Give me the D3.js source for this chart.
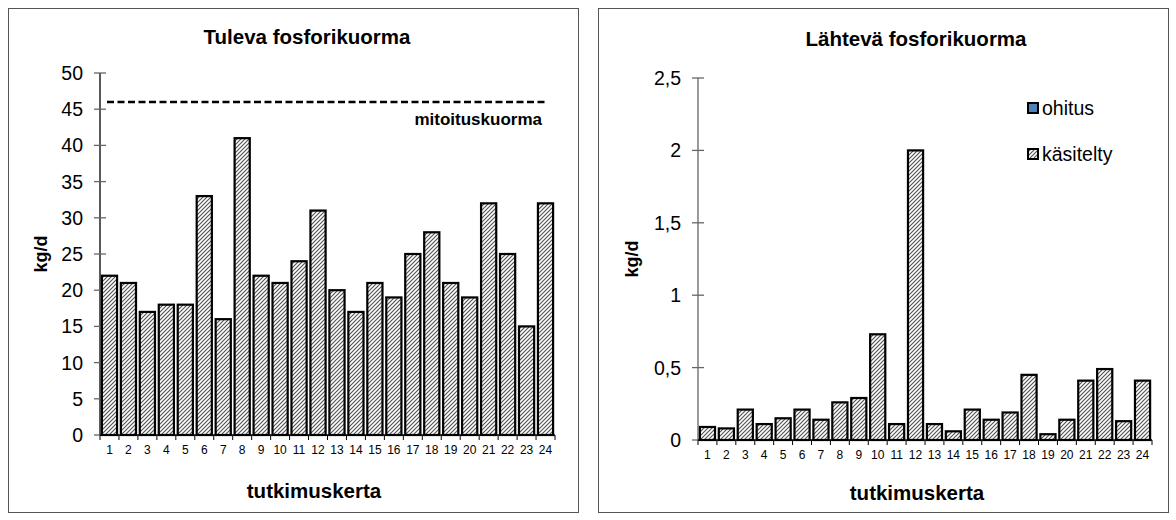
<!DOCTYPE html>
<html><head><meta charset="utf-8">
<script src="https://cdn.jsdelivr.net/npm/d3@7"></script>
<style>body{margin:0;background:#fff}svg{display:block;font-family:"Liberation Sans",Arial,sans-serif}</style>
</head><body>
<svg id="c" width="1176" height="520"></svg>
<script>
const categories = d3.range(1,25).map(String);
const tulevaValues = [22,21,17,18,18,33,16,41,22,21,24,31,20,17,21,19,25,28,21,19,32,25,15,32];
const lahtevaKasitelty = [0.09,0.08,0.21,0.11,0.15,0.21,0.14,0.26,0.29,0.73,0.11,2.0,0.11,0.06,0.21,0.14,0.19,0.45,0.04,0.14,0.41,0.49,0.13,0.41];
const lahtevaOhitus = [0,0,0,0,0,0,0,0,0,0,0,0,0,0,0,0,0,0,0,0,0,0,0,0];
const mitoitus = 46;
const leftTicks = [0,5,10,15,20,25,30,35,40,45,50];
const rightTicks = [0,0.5,1,1.5,2,2.5];
const legendLabels = ["ohitus","käsitelty"];

const svg = d3.select("#c");
const defs = svg.append("defs");
const pat = defs.append("pattern").attr("id","hatch").attr("patternUnits","userSpaceOnUse")
  .attr("width",4).attr("height",4);
pat.append("rect").attr("width",4).attr("height",4).attr("fill","#fff");
pat.append("path").attr("d","M-1,1 l2,-2 M0,4 l4,-4 M3,5 l2,-2").attr("stroke","#555").attr("stroke-width",1.2);

function panel(o){
  const g = svg.append("g");
  g.append("rect").attr("x",o.bx+0.5).attr("y",8.5).attr("width",570).attr("height",504)
    .attr("fill","#fff").attr("stroke","#555").attr("stroke-width",1);
  const x = d3.scaleBand().domain(categories).range([o.x0,o.x1]).paddingInner(0.2).paddingOuter(0.1);
  const y = d3.scaleLinear().domain([0,o.max]).range([o.y0,o.y1]);
  g.append("text").attr("x",o.tx).attr("y",o.ty).attr("text-anchor","middle")
    .attr("font-weight","bold").attr("font-size",20.5).text(o.title);
  g.append("line").attr("x1",o.x0).attr("x2",o.x0).attr("y1",y(0)).attr("y2",y(o.max)).attr("stroke",o.axisCol).attr("stroke-width",1.3);
  const yt = g.append("g");
  yt.selectAll("line").data(o.ticks).join("line")
    .attr("x1",o.x0-6).attr("x2",o.x0+6).attr("y1",d=>y(d)).attr("y2",d=>y(d)).attr("stroke","#666").attr("stroke-width",1.3);
  yt.selectAll("text").data(o.ticks).join("text")
    .attr("x",o.x0-17).attr("y",d=>y(d)).attr("dy","0.36em").attr("text-anchor","end")
    .attr("font-size",19.5).text(d=>String(d).replace(".",","));
  g.append("text").attr("transform",`translate(${o.ylx},${(o.y0+o.y1)/2}) rotate(-90)`)
    .attr("text-anchor","middle").attr("font-weight","bold").attr("font-size",18).text("kg/d");
  g.selectAll("rect.bar").data(o.values).join("rect").attr("class","bar")
    .attr("x",(d,i)=>x(categories[i])).attr("width",x.bandwidth())
    .attr("y",d=>y(d)).attr("height",d=>y(0)-y(d))
    .attr("fill","url(#hatch)").attr("stroke","#000").attr("stroke-width",2.2);
  g.append("line").attr("x1",o.x0).attr("x2",o.x1).attr("y1",y(0)).attr("y2",y(0)).attr("stroke","#000").attr("stroke-width",1.5);
  const bounds = d3.range(25).map(i=>o.x0 + (o.x1-o.x0)*i/24);
  g.selectAll("line.xt").data(bounds).join("line").attr("class","xt")
    .attr("x1",d=>d).attr("x2",d=>d).attr("y1",y(0)).attr("y2",y(0)+5).attr("stroke","#000").attr("stroke-width",1);
  g.selectAll("text.xl").data(categories).join("text").attr("class","xl")
    .attr("x",d=>x(d)+x.bandwidth()/2).attr("y",y(0)+19).attr("text-anchor","middle")
    .attr("font-size",12).text(d=>d);
  g.append("text").attr("x",o.xtx).attr("y",o.xty).attr("text-anchor","middle")
    .attr("font-weight","bold").attr("font-size",20.5).text("tutkimuskerta");
  return {g,x,y};
}

const L = panel({bx:8,x0:100,x1:555,y0:435,y1:73,max:50,ticks:leftTicks,values:tulevaValues,
  title:"Tuleva fosforikuorma",tx:307,ty:44,ylx:47,xty:498,xtx:314,axisCol:"#000"});
L.g.append("line").attr("x1",107).attr("x2",546).attr("y1",L.y(mitoitus)).attr("y2",L.y(mitoitus))
  .attr("stroke","#000").attr("stroke-width",2.4).attr("stroke-dasharray","7,3.5");
L.g.append("text").attr("x",542).attr("y",L.y(mitoitus)+23).attr("text-anchor","end")
  .attr("font-weight","bold").attr("font-size",17).text("mitoituskuorma");

const R = panel({bx:598,x0:698,x1:1152,y0:440,y1:78,max:2.5,ticks:rightTicks,values:lahtevaKasitelty,
  title:"Lähtevä fosforikuorma",tx:916,ty:46,ylx:638,xty:500,xtx:917,axisCol:"#666"});
const lg = R.g.append("g");
const fills = ["#4f81bd","url(#hatch)"];
legendLabels.forEach((t,i)=>{
  const yy = 108 + i*46;
  lg.append("rect").attr("x",1028).attr("y",yy-5).attr("width",10).attr("height",10)
    .attr("fill",fills[i]).attr("stroke","#000").attr("stroke-width",2);
  lg.append("text").attr("x",1042).attr("y",yy).attr("dy","0.36em").attr("font-size",19.5).text(t);
});
</script>
</body></html>
